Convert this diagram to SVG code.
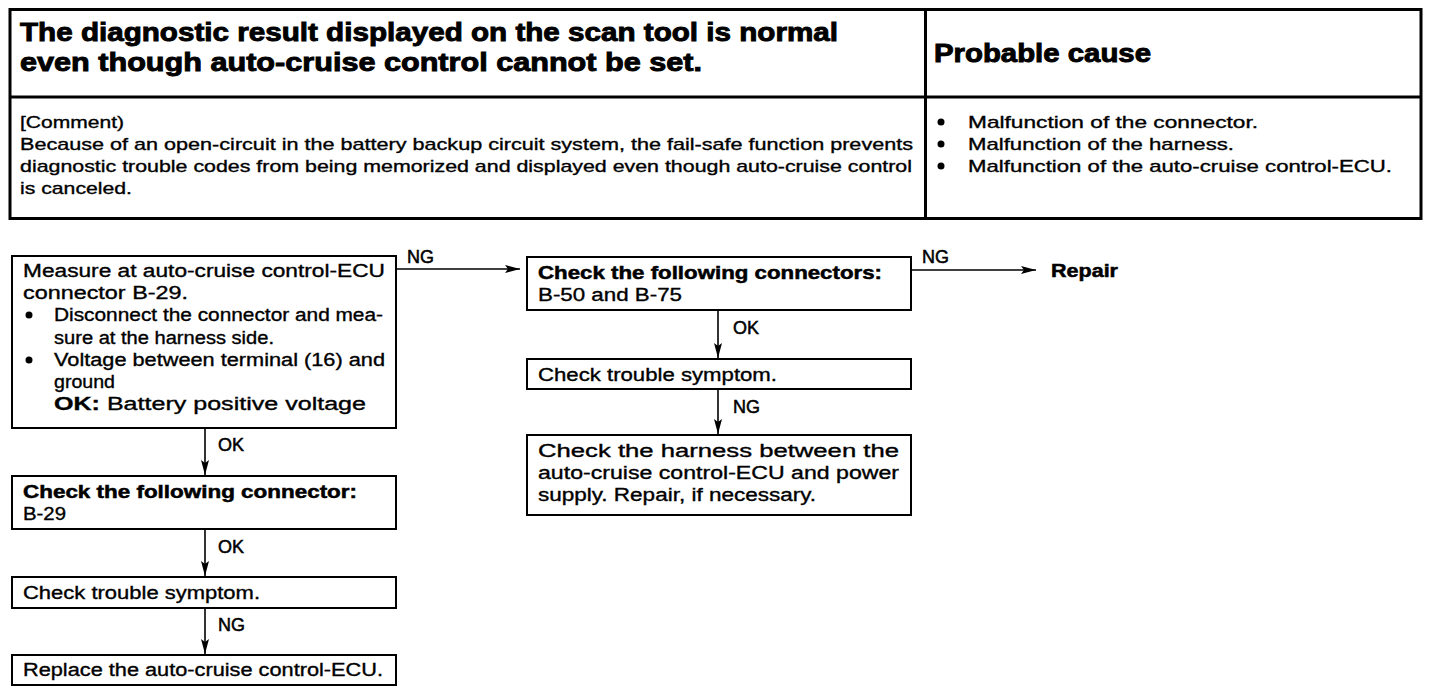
<svg xmlns="http://www.w3.org/2000/svg" width="1440" height="694" viewBox="0 0 1440 694">
<style>
text{font-family:"Liberation Sans",Arial,sans-serif;fill:#000;stroke:#000;stroke-width:0.35}
.t{font-size:25px;font-weight:bold;stroke-width:0.9}
.b{font-size:17px}
.f{font-size:18px}
.fb{font-size:18px;font-weight:bold;stroke-width:0.5}
.lbl{font-size:18px;stroke-width:0.5}
.box{fill:#fff;stroke:#000;stroke-width:2}
.tbl{fill:none;stroke:#000;stroke-width:3}
.c{stroke:#000;stroke-width:1.6;fill:none}
</style>
<defs>
<marker id="ah" markerUnits="userSpaceOnUse" markerWidth="16" markerHeight="10" refX="15" refY="5" orient="auto">
<path d="M0,1 L15,5 L0,9 L3,5 Z" fill="#000"/>
</marker>
</defs>
<rect width="1440" height="694" fill="#fff"/>
<g id="table">
<rect class="tbl" x="10" y="9.5" width="1411" height="209"/>
<line class="tbl" x1="10" y1="97" x2="1421" y2="97"/>
<line class="tbl" x1="925.5" y1="9.5" x2="925.5" y2="218.5"/>
<text class="t" x="20" y="41" textLength="818" lengthAdjust="spacingAndGlyphs">The diagnostic result displayed on the scan tool is normal</text>
<text class="t" x="20" y="71" textLength="682" lengthAdjust="spacingAndGlyphs">even though auto-cruise control cannot be set.</text>
<text class="t" x="934" y="62" textLength="217" lengthAdjust="spacingAndGlyphs">Probable cause</text>
<text class="b" x="20" y="128" textLength="104" lengthAdjust="spacingAndGlyphs">[Comment)</text>
<text class="b" x="20" y="150" textLength="893" lengthAdjust="spacingAndGlyphs">Because of an open-circuit in the battery backup circuit system, the fail-safe function prevents</text>
<text class="b" x="20" y="172" textLength="892" lengthAdjust="spacingAndGlyphs">diagnostic trouble codes from being memorized and displayed even though auto-cruise control</text>
<text class="b" x="20" y="194" textLength="112" lengthAdjust="spacingAndGlyphs">is canceled.</text>
<circle cx="941" cy="122" r="3.5"/>
<circle cx="941" cy="144" r="3.5"/>
<circle cx="941" cy="166" r="3.5"/>
<text class="b" x="968" y="128" textLength="290" lengthAdjust="spacingAndGlyphs">Malfunction of the connector.</text>
<text class="b" x="968" y="150" textLength="266" lengthAdjust="spacingAndGlyphs">Malfunction of the harness.</text>
<text class="b" x="968" y="172" textLength="424" lengthAdjust="spacingAndGlyphs">Malfunction of the auto-cruise control-ECU.</text>
</g>
<g id="connectors">
<line class="c" x1="396" y1="269" x2="520" y2="269" marker-end="url(#ah)"/>
<text class="lbl" x="407" y="263">NG</text>
<line class="c" x1="911" y1="270" x2="1036" y2="270" marker-end="url(#ah)"/>
<text class="lbl" x="922" y="263">NG</text>
<line class="c" x1="718" y1="310" x2="718" y2="358" marker-end="url(#ah)"/>
<text class="lbl" x="733" y="334">OK</text>
<line class="c" x1="718" y1="389" x2="718" y2="434" marker-end="url(#ah)"/>
<text class="lbl" x="733" y="413">NG</text>
<line class="c" x1="205" y1="428" x2="205" y2="475" marker-end="url(#ah)"/>
<text class="lbl" x="218" y="451">OK</text>
<line class="c" x1="205" y1="529" x2="205" y2="576" marker-end="url(#ah)"/>
<text class="lbl" x="218" y="553">OK</text>
<line class="c" x1="205" y1="608" x2="205" y2="654" marker-end="url(#ah)"/>
<text class="lbl" x="218" y="631">NG</text>
</g>
<g id="measure">
<rect class="box" x="12" y="256" width="384" height="172"/>
<text class="f" x="23" y="277" textLength="362" lengthAdjust="spacingAndGlyphs">Measure at auto-cruise control-ECU</text>
<text class="f" x="23" y="299" textLength="165" lengthAdjust="spacingAndGlyphs">connector B-29.</text>
<circle cx="29" cy="315" r="3.5"/>
<text class="f" x="54" y="321" textLength="329" lengthAdjust="spacingAndGlyphs">Disconnect the connector and mea-</text>
<text class="f" x="54" y="344" textLength="220" lengthAdjust="spacingAndGlyphs">sure at the harness side.</text>
<circle cx="29" cy="360" r="3.5"/>
<text class="f" x="54" y="366" textLength="331" lengthAdjust="spacingAndGlyphs">Voltage between terminal (16) and</text>
<text class="f" x="54" y="388" textLength="61" lengthAdjust="spacingAndGlyphs">ground</text>
<text class="f" x="54" y="410" textLength="312" lengthAdjust="spacingAndGlyphs"><tspan font-weight="bold">OK:</tspan> Battery positive voltage</text>
</g>
<g id="check-b50-b75">
<rect class="box" x="527" y="257" width="384" height="53"/>
<text class="fb" x="538" y="279" textLength="344" lengthAdjust="spacingAndGlyphs">Check the following connectors:</text>
<text class="f" x="538" y="301" textLength="144" lengthAdjust="spacingAndGlyphs">B-50 and B-75</text>
</g>
<g id="repair">
<text class="fb" x="1051" y="277" textLength="67" lengthAdjust="spacingAndGlyphs">Repair</text>
</g>
<g id="symptom-right">
<rect class="box" x="527" y="359" width="384" height="30"/>
<text class="f" x="538" y="381" textLength="239" lengthAdjust="spacingAndGlyphs">Check trouble symptom.</text>
</g>
<g id="harness">
<rect class="box" x="527" y="435" width="384" height="80"/>
<text class="f" x="538" y="457" textLength="361" lengthAdjust="spacingAndGlyphs">Check the harness between the</text>
<text class="f" x="538" y="479" textLength="361" lengthAdjust="spacingAndGlyphs">auto-cruise control-ECU and power</text>
<text class="f" x="538" y="501" textLength="278" lengthAdjust="spacingAndGlyphs">supply. Repair, if necessary.</text>
</g>
<g id="check-b29">
<rect class="box" x="12" y="476" width="384" height="53"/>
<text class="fb" x="23" y="498" textLength="334" lengthAdjust="spacingAndGlyphs">Check the following connector:</text>
<text class="f" x="23" y="520" textLength="43" lengthAdjust="spacingAndGlyphs">B-29</text>
</g>
<g id="symptom-left">
<rect class="box" x="12" y="577" width="384" height="31"/>
<text class="f" x="23" y="599" textLength="237" lengthAdjust="spacingAndGlyphs">Check trouble symptom.</text>
</g>
<g id="replace">
<rect class="box" x="12" y="655" width="384" height="30"/>
<text class="f" x="23" y="676" textLength="360" lengthAdjust="spacingAndGlyphs">Replace the auto-cruise control-ECU.</text>
</g>
</svg>
